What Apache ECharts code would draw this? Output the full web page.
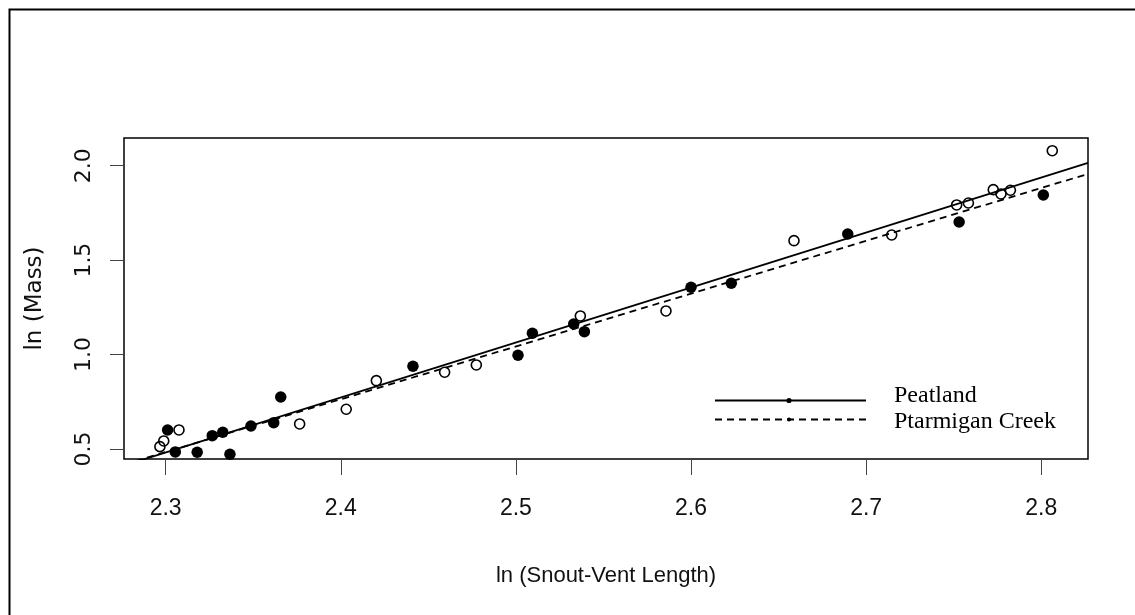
<!DOCTYPE html>
<html>
<head>
<meta charset="utf-8">
<script src="https://cdn.jsdelivr.net/npm/echarts@6/dist/echarts.min.js"></script>
<style>
html,body{margin:0;padding:0;background:#fff;}
#chart{width:1135px;height:615px;}
</style>
</head>
<body>
<div id="chart"></div>
<script>
// ---- data ----
const peatlandX = [2.3011, 2.3055, 2.3180, 2.3266, 2.3326, 2.3367, 2.3487, 2.3617, 2.3657, 2.4412, 2.5012, 2.5094, 2.5330, 2.5391, 2.6000, 2.6230, 2.6895, 2.7531, 2.8012];
const peatlandY = [0.6008, 0.4844, 0.4828, 0.5707, 0.5886, 0.4720, 0.6220, 0.6395, 0.7755, 0.9380, 0.9963, 1.1127, 1.1620, 1.1212, 1.3562, 1.3774, 1.6384, 1.7020, 1.8450];
const ptarmiganX = [2.2967, 2.2989, 2.3076, 2.3765, 2.4031, 2.4203, 2.4593, 2.4774, 2.5368, 2.5857, 2.6588, 2.7146, 2.7517, 2.7584, 2.7726, 2.7770, 2.7824, 2.8063];
const ptarmiganY = [0.5125, 0.5426, 0.6008, 0.6326, 0.7104, 0.8618, 0.9063, 0.9450, 1.2043, 1.2308, 1.6030, 1.6331, 1.7920, 1.8025, 1.8730, 1.8500, 1.8700, 2.0794];
// regression fits: [intercept, slope]
const peatlandFit = [-6.2138, 2.911];
const ptarmiganFit = [-5.947, 2.796];
const xTicks = [2.3, 2.4, 2.5, 2.6, 2.7, 2.8];
const yTicks = [0.5, 1.0, 1.5, 2.0];
const xRange = [2.2762, 2.8267];
const yRange = [0.447, 2.1466];
const seriesNames = ['Peatland', 'Ptarmigan Creek'];

const pts = (xs, ys) => xs.map((x, i) => [x, ys[i]]);
const fitLine = f => xRange.map(x => [x, f[0] + f[1] * x]);

const axisFontX = '"Liberation Sans", Arial, sans-serif';
const axisFontY = '"DejaVu Sans", "Liberation Sans", Arial, sans-serif';
const serif = '"Liberation Serif", "Times New Roman", serif';

const chart = echarts.init(document.getElementById('chart'), null, {renderer: 'canvas'});
chart.setOption({
  animation: false,
  backgroundColor: '#fff',
  grid: {left: 124, top: 138, width: 964, height: 321, show: true, borderColor: '#000', borderWidth: 1.5, backgroundColor: 'transparent'},
  xAxis: {
    type: 'value', min: xRange[0], max: xRange[1],
    axisLine: {show: false},
    splitLine: {show: false},
    axisTick: {show: true, customValues: xTicks, length: 16, lineStyle: {color: '#444', width: 1}},
    axisLabel: {customValues: xTicks, formatter: v => v.toFixed(1), fontFamily: axisFontX, fontSize: 23, color: '#111', margin: 38},
    name: 'ln (Snout-Vent Length)', nameLocation: 'middle', nameGap: 106,
    nameTextStyle: {fontFamily: axisFontX, fontSize: 22, color: '#111'}
  },
  yAxis: {
    type: 'value', min: yRange[0], max: yRange[1],
    axisLine: {show: false},
    splitLine: {show: false},
    axisTick: {show: true, customValues: yTicks, length: 14, lineStyle: {color: '#444', width: 1}},
    axisLabel: {customValues: yTicks, rotate: 90, formatter: v => v.toFixed(1), fontFamily: axisFontY, fontSize: 22, color: '#111', margin: 29},
    name: 'ln (Mass)', nameLocation: 'middle', nameGap: 77, nameRotate: 90,
    nameTextStyle: {fontFamily: axisFontY, fontSize: 23, color: '#111'}
  },
  series: [
    {name: seriesNames[0] + ' pts', type: 'scatter', data: pts(peatlandX, peatlandY), symbol: 'circle', symbolSize: 11.5,
     itemStyle: {color: '#000', borderColor: '#000', borderWidth: 0, opacity: 1}, z: 3},
    {name: seriesNames[1] + ' pts', type: 'scatter', data: pts(ptarmiganX, ptarmiganY), symbol: 'circle', symbolSize: 10,
     itemStyle: {color: 'rgba(0,0,0,0)', borderColor: '#000', borderWidth: 1.6, opacity: 1}, z: 3},
    {name: seriesNames[0], type: 'line', data: fitLine(peatlandFit), showSymbol: false, symbol: 'none', clip: true,
     lineStyle: {color: '#000', width: 1.8, type: 'solid'}, z: 4},
    {name: seriesNames[1], type: 'line', data: fitLine(ptarmiganFit), showSymbol: false, symbol: 'none', clip: true,
     lineStyle: {color: '#000', width: 1.8, type: [7, 5]}, z: 4}
  ],
  graphic: [
    {type: 'rect', shape: {x: 9.5, y: 9.5, width: 1200, height: 700}, style: {fill: 'none', stroke: '#000', lineWidth: 2}, silent: true},
    {type: 'line', shape: {x1: 715, y1: 400.5, x2: 866, y2: 400.5}, style: {stroke: '#000', lineWidth: 1.8}},
    {type: 'circle', shape: {cx: 789, cy: 400.5, r: 2.6}, style: {fill: '#000'}},
    {type: 'line', shape: {x1: 715, y1: 419.5, x2: 866, y2: 419.5}, style: {stroke: '#000', lineWidth: 1.8, lineDash: [7, 5]}},
    {type: 'circle', shape: {cx: 789, cy: 419.5, r: 2}, style: {fill: '#000'}},
    {type: 'text', x: 894, y: 396, style: {text: seriesNames[0], font: '24px ' + serif, fill: '#000', verticalAlign: 'middle', align: 'left'}},
    {type: 'text', x: 894, y: 421.5, style: {text: seriesNames[1], font: '24px ' + serif, fill: '#000', verticalAlign: 'middle', align: 'left'}}
  ]
});
</script>
</body>
</html>
